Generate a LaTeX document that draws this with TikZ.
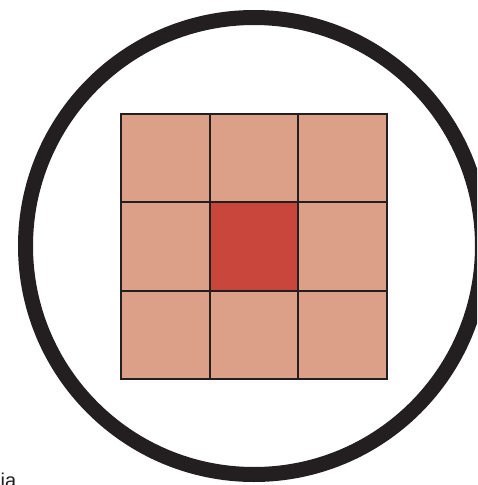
\documentclass[tikz,border=0pt]{standalone}
\usepackage{fontspec}
\setmainfont{Liberation Sans}
\definecolor{ink}{HTML}{231F20}
\definecolor{cellbg}{HTML}{DCA089}
\definecolor{cellred}{HTML}{C8463C}
\begin{document}
\begin{tikzpicture}[x=1pt,y=-1pt,
  cell/.style={draw=ink, line width=2pt, fill=cellbg, minimum size=88.5pt, inner sep=0pt, outer sep=0pt},
  hot/.style={cell, fill=cellred},
  ring/.style={draw=ink, line width=15pt}]
\clip (0,0) rectangle (477,485);
\fill[white] (0,0) rectangle (477,485);
\draw[ring] (254,246) circle[radius=228.5];
\foreach \i/\cx in {0/165.5,1/254,2/342.5}{
  \foreach \j/\cy in {0/158.5,1/246.5,2/335}{
    \node[cell] (c\i\j) at (\cx,\cy) {};
  }
}
\node[hot] (c11) at (254,246.5) {};
\node[anchor=base west, inner sep=0pt, font=\fontsize{20}{24}\selectfont, text=ink] (lbl) at (0.5,487.5) {ia};
\end{tikzpicture}
\end{document}
